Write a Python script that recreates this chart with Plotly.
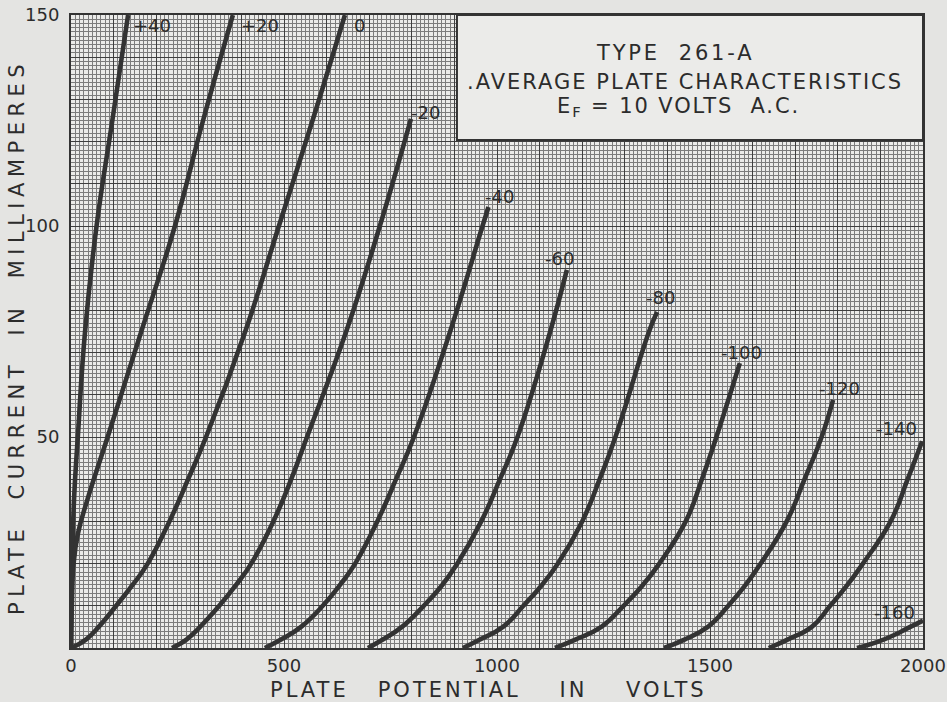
import plotly.graph_objects as go

# ---- data (plate volts, plate milliamperes) ----
bias_labels = ["+40", "+20", "0", "-20", "-40", "-60", "-80", "-100", "-120", "-140", "-160"]

v_p40 = [0, 3, 7, 16, 33, 60, 97, 134]
i_p40 = [0, 20, 35, 50, 75, 100, 125, 150]

v_p20 = [0, 2, 6, 16, 38, 86, 165, 244, 310, 380]
i_p20 = [0, 10, 20, 27, 35, 50, 75, 100, 125, 150]

v_0 = [0, 35, 65, 106, 145, 180, 231, 275, 317, 409, 488, 567, 643]
i_0 = [0, 2, 5, 10, 15, 20, 30, 40, 50, 75, 100, 125, 150]

v_m20 = [237, 271, 303, 348, 388, 423, 475, 517, 554, 646, 725, 798]
i_m20 = [0, 2, 5, 10, 15, 20, 30, 40, 50, 75, 100, 125.4]

v_m40 = [455, 493, 540, 591, 632, 667, 719, 763, 805, 890, 966, 980]
i_m40 = [0, 2, 5, 10, 15, 20, 30, 40, 50, 75, 100, 104.5]

v_m60 = [697, 732, 777, 828, 872, 907, 963, 1007, 1048, 1125, 1164]
i_m60 = [0, 2, 5, 10, 15, 20, 30, 40, 50, 75, 89.6]

v_m80 = [920, 960, 1014, 1062, 1106, 1143, 1200, 1241, 1278, 1357, 1376]
i_m80 = [0, 2, 5, 10, 15, 20, 30, 40, 50, 75, 79.6]

v_m100 = [1136, 1184, 1245, 1297, 1343, 1381, 1443, 1481, 1515, 1570]
i_m100 = [0, 2, 5, 10, 15, 20, 30, 40, 50, 67.5]

v_m120 = [1392, 1440, 1495, 1543, 1584, 1619, 1680, 1722, 1762, 1789]
i_m120 = [0, 2, 5, 10, 15, 20, 30, 40, 50, 58.8]

v_m140 = [1638, 1682, 1739, 1782, 1823, 1859, 1924, 1964, 1998]
i_m140 = [0, 2, 5, 10, 15, 20, 30, 40, 49]

v_m160 = [1845, 1895, 1935, 1962, 2000]
i_m160 = [0, 1.5, 3.2, 4.6, 6.5]

x_tick_vals = list(range(0, 2001, 100))
x_tick_text = [str(v) if v % 500 == 0 else "" for v in x_tick_vals]
y_tick_vals = list(range(0, 151, 10))
y_tick_text = [str(v) if v in (50, 100, 150) else "" for v in y_tick_vals]

curves = [
    (v_p40, i_p40), (v_p20, i_p20), (v_0, i_0), (v_m20, i_m20), (v_m40, i_m40),
    (v_m60, i_m60), (v_m80, i_m80), (v_m100, i_m100), (v_m120, i_m120),
    (v_m140, i_m140), (v_m160, i_m160),
]

# label anchor (volts, mA) for each curve label
label_at = [(190, 147.5), (444, 147.5), (678, 147.5), (833, 127), (1005, 107),
            (1146, 92.4), (1383, 83), (1573, 70.1), (1803, 61.4), (1937, 52.1), (1934, 8.5)]

INK = "#2c2c2c"
FONT = "DejaVu Sans"

fig = go.Figure()
for (vx, iy), name in zip(curves, bias_labels):
    fig.add_trace(go.Scatter(
        x=vx, y=iy, mode="lines", name=name,
        line=dict(color="#333333", width=4.6, shape="spline", smoothing=1.3),
        showlegend=False, hoverinfo="skip",
    ))

annotations = []
for (lx, ly), name in zip(label_at, bias_labels):
    annotations.append(dict(x=lx, y=ly, xref="x", yref="y", text=name, showarrow=False,
                            xanchor="center", yanchor="middle",
                            font=dict(family=FONT, size=18, color=INK)))


def spaced(t, px):
    return '<span style="letter-spacing:%spx">%s</span>' % (px, t)


def px_x(p):
    return (p - 71) / 852


def px_y(p):
    return (648 - p) / 633


annotations += [
    dict(x=px_x(675), y=px_y(53), xref="paper", yref="paper", xanchor="center", yanchor="middle",
         text=spaced("TYPE\u00a0\u00a0261-A", 2.8), showarrow=False,
         font=dict(family=FONT, size=21, color=INK)),
    dict(x=px_x(685), y=px_y(82), xref="paper", yref="paper", xanchor="center", yanchor="middle",
         text=spaced(".AVERAGE PLATE CHARACTERISTICS", 2.0), showarrow=False,
         font=dict(family=FONT, size=21, color=INK)),
    dict(x=px_x(678), y=px_y(107), xref="paper", yref="paper", xanchor="center", yanchor="middle",
         text=spaced("E<sub>F</sub> = 10 VOLTS\u00a0\u00a0A.C.", 1.9), showarrow=False,
         font=dict(family=FONT, size=21, color=INK)),
    dict(x=px_x(488), y=px_y(690), xref="paper", yref="paper", xanchor="center", yanchor="middle",
         text=spaced("PLATE\u00a0\u00a0\u00a0POTENTIAL\u00a0\u00a0\u00a0\u00a0IN\u00a0\u00a0\u00a0\u00a0VOLTS", 3),
         showarrow=False, font=dict(family=FONT, size=21, color=INK)),
    dict(x=px_x(17), y=px_y(337), xref="paper", yref="paper", xanchor="center", yanchor="middle",
         text=spaced("PLATE\u00a0\u00a0CURRENT\u00a0\u00a0IN\u00a0\u00a0MILLIAMPERES", 5.5),
         textangle=-90, showarrow=False, font=dict(family=FONT, size=21, color=INK)),
]

fig.update_layout(
    width=947, height=702,
    margin=dict(l=71, r=24, t=15, b=54, autoexpand=False),
    paper_bgcolor="#e4e4e2",
    plot_bgcolor="#ebebe9",
    annotations=annotations,
    shapes=[dict(type="rect", xref="x", yref="y", x0=906, x1=2000, y0=120.4, y1=150,
                 fillcolor="#ebebe9", line=dict(color="#333333", width=2), layer="above")],
    font=dict(family=FONT, color=INK),
)

fig.update_xaxes(
    range=[0, 2000], tickmode="array", tickvals=x_tick_vals, ticktext=x_tick_text,
    showgrid=True, gridcolor="#3e3e3e", gridwidth=1.2, ticks="", zeroline=False, automargin=False,
    showline=True, linecolor="#333333", linewidth=2, mirror=True,
    tickfont=dict(family=FONT, size=18, color=INK), ticklabelstandoff=0,
    minor=dict(dtick=10, tick0=0, showgrid=True, gridcolor="#7c7c7c", gridwidth=1, ticks=""),
)
fig.update_yaxes(
    range=[0, 150], tickmode="array", tickvals=y_tick_vals, ticktext=y_tick_text,
    showgrid=True, gridcolor="#3e3e3e", gridwidth=1.2, ticks="", zeroline=False, automargin=False,
    showline=True, linecolor="#333333", linewidth=2, mirror=True,
    tickfont=dict(family=FONT, size=18, color=INK), ticklabelstandoff=6,
    minor=dict(dtick=1, tick0=0, showgrid=True, gridcolor="#7c7c7c", gridwidth=1, ticks=""),
)

fig.write_html("out.html", config={"displayModeBar": False},
               post_script="document.body.style.margin='0px';")
